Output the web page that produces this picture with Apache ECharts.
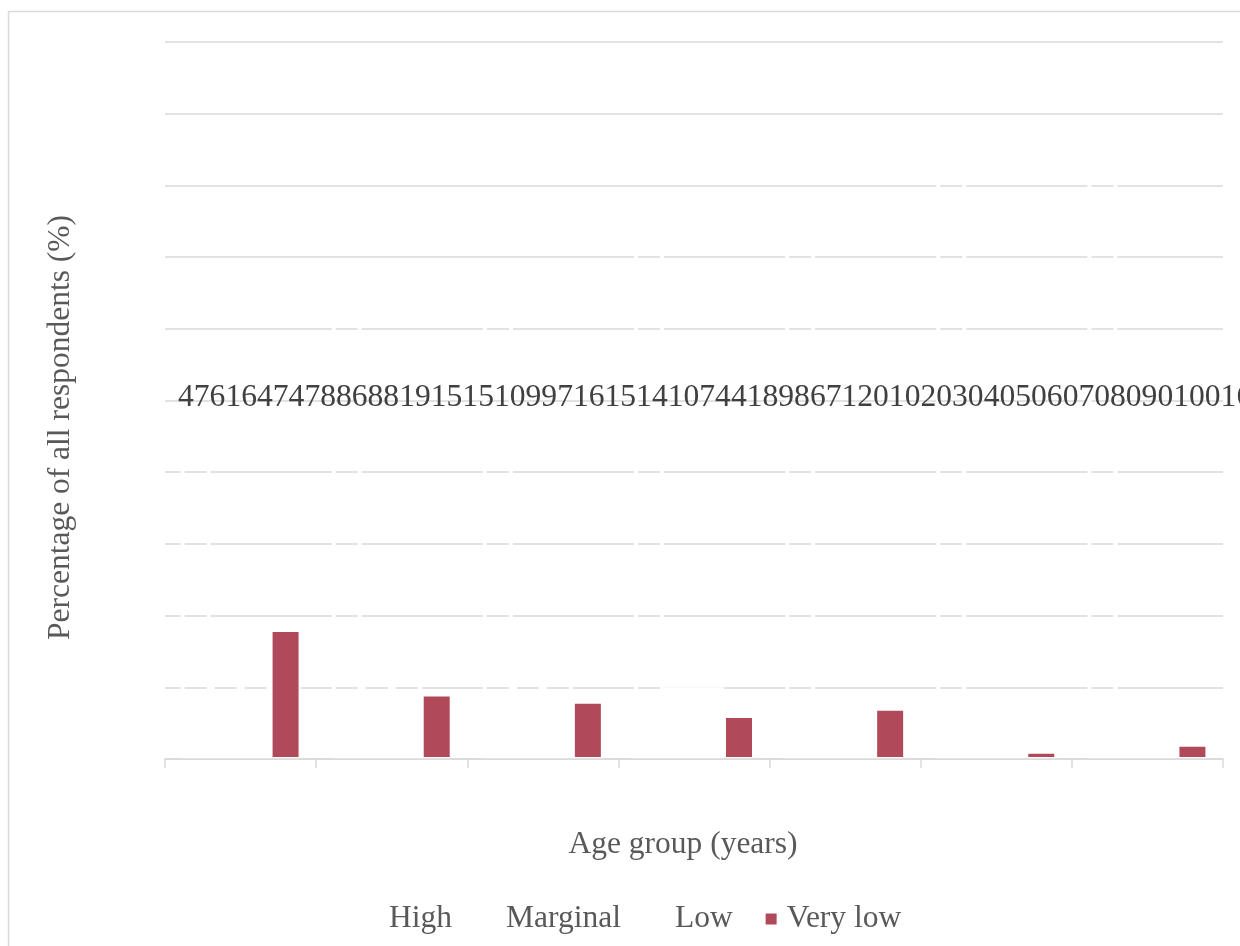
<!DOCTYPE html>
<html>
<head>
<meta charset="utf-8">
<script src="https://cdn.jsdelivr.net/npm/echarts@6/dist/echarts.min.js"></script>
<style>
html,body{margin:0;padding:0;background:#fff;}
#c{width:1240px;height:946px;}
</style>
</head>
<body>
<div id="c"></div>
<script>
// Data
var categories = ['16–24', '25–34', '35–44', '45–54', '55–64', '65–74', '75+'];
var high     = [47, 61, 64, 74, 78, 86, 88];
var marginal = [19, 15, 15, 10, 9, 9, 7];
var low      = [16, 15, 14, 10, 7, 4, 4];
var veryLow  = [18, 9, 8, 6, 7, 1, 2];
var yTicks   = [0, 10, 20, 30, 40, 50, 60, 70, 80, 90, 100];
var seriesNames = ['High', 'Marginal', 'Low', 'Very low'];

// All labels collapsed onto one line, as in the reference
var collapsed = high.join('') + marginal.join('') + low.join('') + veryLow.join('') +
                yTicks.join('') + categories.join('');

var FONT = '"Liberation Serif", "Times New Roman", serif';
var chart = echarts.init(document.getElementById('c'), null, {renderer: 'canvas'});

function hidden(name, data) {
  return {
    name: name, type: 'bar', data: data, barWidth: 30, barGap: '0%',
    itemStyle: {color: 'rgba(0,0,0,0)', borderColor: '#ffffff', borderWidth: 4},
    emphasis: {disabled: true}
  };
}

chart.setOption({
  animation: false,
  backgroundColor: '#ffffff',
  graphic: [{
    type: 'rect', z: 0, silent: true,
    shape: {x: 8.5, y: 11.5, width: 1400, height: 1100},
    style: {fill: 'none', stroke: '#d9d9d9', lineWidth: 1.5}
  }],
  title: {
    text: collapsed, left: 178, top: 382, padding: 0,
    textStyle: {fontFamily: FONT, fontSize: 31.6, fontWeight: 'normal', color: '#404040'}
  },
  legend: {
    data: seriesNames, left: 363, top: 898, itemGap: 33, itemWidth: 11, itemHeight: 11,
    icon: 'rect',
    itemStyle: {borderWidth: 0},
    textStyle: {fontFamily: FONT, fontSize: 31.5, color: '#595959', padding: [0, 0, 0, 5]}
  },
  grid: {left: 165, right: 17, top: 42, bottom: 187, containLabel: false, outerBoundsMode: 'none'},
  xAxis: {
    type: 'category', data: categories, z: 3,
    name: 'Age group (years)', nameLocation: 'middle', nameGap: 70,
    nameTextStyle: {fontFamily: FONT, fontSize: 31.5, color: '#595959', padding: [0, 22, 0, 0]},
    axisLine: {lineStyle: {color: '#d9d9d9', width: 1.5}},
    axisTick: {show: true, length: 9, lineStyle: {color: '#d9d9d9', width: 1.5}},
    axisLabel: {show: false},
    splitLine: {show: false}
  },
  yAxis: {
    type: 'value', min: 0, max: 100, interval: 10,
    name: 'Percentage of all respondents (%)', nameLocation: 'middle', nameGap: 88,
    nameTextStyle: {fontFamily: FONT, fontSize: 31.5, color: '#595959', padding: [0, 54, 0, 0]},
    axisLine: {show: false}, axisTick: {show: false}, axisLabel: {show: false},
    splitLine: {lineStyle: {color: '#d9d9d9', width: 1.5}}
  },
  series: [
    hidden('High', high),
    hidden('Marginal', marginal),
    hidden('Low', low),
    {
      name: 'Very low', type: 'bar', data: veryLow, barWidth: 30, barGap: '0%',
      itemStyle: {color: '#B04A5A', borderColor: '#ffffff', borderWidth: 2},
      emphasis: {disabled: true}
    }
  ]
});
</script>
</body>
</html>
